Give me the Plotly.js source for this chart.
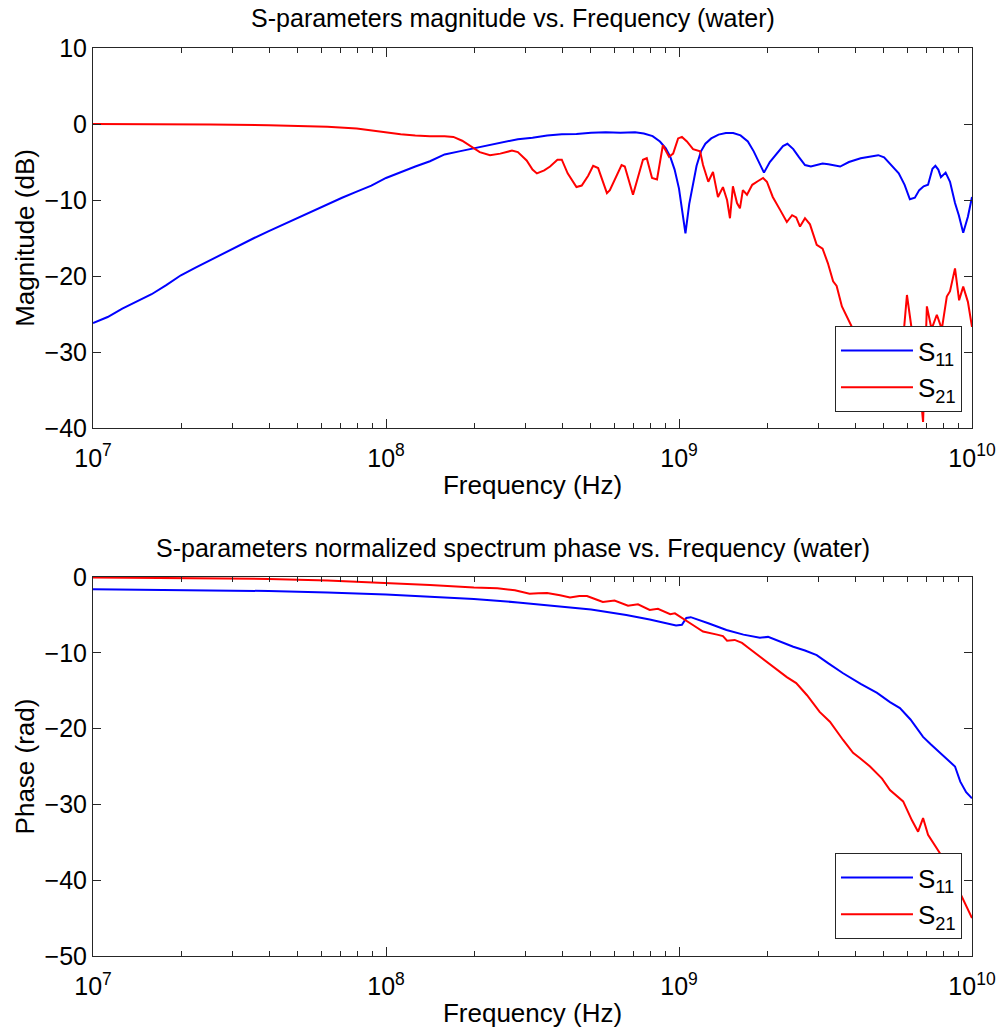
<!DOCTYPE html>
<html>
<head>
<meta charset="utf-8">
<script src="https://cdn.plot.ly/plotly-3.0.1.min.js"></script>
<style>html,body{margin:0;padding:0;background:#fff;}#chart{width:1003px;height:1032px;}</style>
</head>
<body>
<div id="chart"></div>
<script>
// ---------- DATA (frequency given as log10 of Hz) ----------
const magS11LogF = [7.00,7.05,7.10,7.15,7.20,7.25,7.30,7.35,7.40,7.45,7.50,7.55,7.60,7.65,7.70,7.75,7.80,7.85,7.90,7.95,8.00,8.05,8.10,8.15,8.20,8.25,8.30,8.35,8.40,8.45,8.50,8.55,8.60,8.65,8.70,8.75,8.80,8.85,8.88,8.91,8.935,8.955,8.97,8.985,9.00,9.012,9.022,9.035,9.048,9.06,9.075,9.09,9.11,9.135,9.16,9.185,9.21,9.235,9.255,9.275,9.29,9.31,9.335,9.355,9.37,9.39,9.41,9.43,9.45,9.47,9.49,9.51,9.53,9.55,9.58,9.62,9.65,9.68,9.70,9.72,9.75,9.77,9.788,9.805,9.82,9.835,9.85,9.865,9.875,9.885,9.894,9.91,9.925,9.942,9.955,9.97,9.986,10.0];
const magS11dB = [-26.2,-25.4,-24.3,-23.3,-22.4,-21.2,-19.9,-18.9,-17.9,-17.0,-16.0,-15.0,-14.1,-13.2,-12.4,-11.4,-10.5,-9.7,-8.9,-8.1,-7.1,-6.3,-5.6,-4.9,-4.0,-3.6,-3.2,-2.8,-2.4,-2.0,-1.8,-1.5,-1.35,-1.3,-1.15,-1.1,-1.15,-1.1,-1.25,-1.6,-2.3,-3.2,-4.3,-6.0,-8.5,-11.5,-14.4,-10.5,-7.8,-5.5,-3.6,-2.6,-1.9,-1.4,-1.2,-1.2,-1.5,-2.3,-3.6,-5.2,-6.4,-5.0,-3.8,-2.9,-2.6,-3.3,-4.4,-5.4,-5.6,-5.4,-5.2,-5.3,-5.5,-5.6,-5.0,-4.5,-4.3,-4.1,-4.4,-5.3,-6.5,-8.0,-9.9,-9.7,-8.7,-8.2,-8.0,-5.9,-5.5,-6.0,-7.0,-6.4,-7.6,-10.4,-12.0,-14.3,-12.2,-9.6];

const magS21LogF = [7.00,7.20,7.40,7.60,7.70,7.80,7.90,7.95,8.00,8.05,8.10,8.15,8.20,8.23,8.26,8.29,8.32,8.355,8.39,8.43,8.45,8.48,8.50,8.515,8.54,8.56,8.585,8.60,8.62,8.65,8.668,8.69,8.707,8.724,8.74,8.754,8.764,8.785,8.804,8.815,8.83,8.843,8.86,8.877,8.89,8.908,8.925,8.945,8.966,8.98,8.997,9.01,9.027,9.048,9.072,9.082,9.10,9.116,9.133,9.15,9.164,9.174,9.184,9.198,9.208,9.218,9.232,9.25,9.27,9.287,9.30,9.32,9.345,9.368,9.386,9.40,9.413,9.43,9.447,9.47,9.49,9.508,9.526,9.538,9.556,9.584,9.60,9.62,9.64,9.66,9.68,9.70,9.72,9.74,9.76,9.778,9.795,9.805,9.82,9.833,9.846,9.862,9.88,9.897,9.914,9.925,9.942,9.956,9.97,9.986,10.0];
const magS21dB = [0,0,-0.05,-0.15,-0.25,-0.35,-0.6,-0.85,-1.1,-1.35,-1.5,-1.6,-1.6,-1.7,-2.2,-3.0,-3.7,-4.1,-3.9,-3.5,-3.7,-4.8,-6.0,-6.5,-6.1,-5.6,-4.7,-4.7,-6.5,-8.3,-8.1,-6.8,-5.5,-5.8,-7.6,-9.1,-8.7,-7.0,-5.4,-5.6,-7.6,-9.3,-7.0,-4.7,-4.5,-7.1,-7.3,-2.8,-4.3,-3.9,-1.9,-1.7,-2.3,-3.3,-3.6,-5.4,-7.6,-6.3,-9.6,-8.3,-10.0,-12.4,-8.2,-10.4,-11.1,-8.7,-9.3,-8.0,-7.5,-7.1,-7.6,-9.6,-11.3,-12.9,-12.0,-12.3,-13.5,-12.4,-13.2,-15.9,-16.4,-18.3,-20.7,-21.3,-24.0,-26.2,-27.5,-28.6,-30.1,-29.4,-31.5,-32.8,-31.2,-33.6,-30.5,-22.5,-27.5,-30.0,-33.5,-39.2,-24.0,-27.0,-25.1,-27.0,-22.7,-22.0,-19.0,-23.2,-21.4,-23.4,-26.7];

const phS11LogF = [7.0,7.3,7.6,7.8,8.0,8.15,8.3,8.45,8.6,8.7,8.82,8.9,8.99,9.01,9.025,9.04,9.10,9.162,9.22,9.276,9.304,9.35,9.39,9.43,9.47,9.51,9.56,9.62,9.676,9.72,9.754,9.79,9.833,9.86,9.89,9.92,9.942,9.96,9.98,10.0];
const phS11Rad = [-1.6,-1.7,-1.85,-2.05,-2.3,-2.6,-2.9,-3.35,-3.9,-4.3,-5.0,-5.6,-6.4,-6.3,-5.4,-5.3,-6.1,-7.0,-7.6,-8.0,-7.9,-8.6,-9.2,-9.7,-10.3,-11.4,-12.7,-14.1,-15.3,-16.5,-17.3,-18.8,-21.1,-22.1,-23.2,-24.2,-25.0,-27.0,-28.4,-29.2];

const phS21LogF = [7.0,7.3,7.6,7.8,8.0,8.15,8.3,8.38,8.44,8.49,8.52,8.55,8.594,8.628,8.66,8.686,8.72,8.74,8.78,8.81,8.826,8.86,8.9,8.928,8.97,8.986,9.027,9.05,9.082,9.11,9.13,9.15,9.164,9.19,9.215,9.242,9.276,9.31,9.34,9.368,9.40,9.437,9.48,9.515,9.56,9.594,9.618,9.652,9.693,9.72,9.765,9.795,9.816,9.833,9.85,9.89,9.92,9.95,9.975,10.0];
const phS21Rad = [-0.05,-0.12,-0.25,-0.45,-0.75,-1.05,-1.4,-1.5,-1.75,-2.2,-2.15,-2.1,-2.4,-2.7,-2.5,-2.5,-3.0,-3.3,-3.1,-3.5,-3.8,-3.6,-4.35,-4.2,-4.9,-4.8,-5.9,-6.4,-7.2,-7.4,-7.6,-7.8,-8.4,-8.3,-8.7,-9.5,-10.5,-11.6,-12.4,-13.2,-14.0,-15.6,-17.8,-19.1,-21.5,-23.2,-23.9,-25.0,-26.6,-28.1,-29.6,-32.1,-33.6,-31.8,-34.0,-36.4,-38.5,-41.0,-43.0,-45.0];

const seriesNames = ['S<sub>11</sub>', 'S<sub>21</sub>'];
const majorTickExp = [7, 8, 9, 10];
const titles = ['S-parameters magnitude vs. Frequency (water)', 'S-parameters normalized spectrum phase vs. Frequency (water)'];
const yTitles = ['Magnitude (dB)', 'Phase (rad)'];
const xTitle = 'Frequency (Hz)';

// ---------- BUILD ----------
const toHz = a => a.map(e => Math.pow(10, e));
const FONT = 'Liberation Sans, Arial, Helvetica, sans-serif';
const BLUE = '#0000ff', RED = '#ff0000', AX = '#262626';

const traces = [
  {x: toHz(magS11LogF), y: magS11dB, name: seriesNames[0], mode: 'lines', line: {color: BLUE, width: 2}, xaxis: 'x', yaxis: 'y', legend: 'legend'},
  {x: toHz(magS21LogF), y: magS21dB, name: seriesNames[1], mode: 'lines', line: {color: RED, width: 2}, xaxis: 'x', yaxis: 'y', legend: 'legend'},
  {x: toHz(phS11LogF), y: phS11Rad, name: seriesNames[0], mode: 'lines', line: {color: BLUE, width: 2}, xaxis: 'x2', yaxis: 'y2', legend: 'legend2'},
  {x: toHz(phS21LogF), y: phS21Rad, name: seriesNames[1], mode: 'lines', line: {color: RED, width: 2}, xaxis: 'x2', yaxis: 'y2', legend: 'legend2'}
];

function xAxis(anchor) {
  return {
    type: 'log', range: [7, 10], anchor: anchor,
    tickmode: 'array', tickvals: majorTickExp.map(e => Math.pow(10, e)),
    ticktext: majorTickExp.map(e => '10<sup>' + e + '</sup>'),
    ticks: 'inside', ticklen: 9, tickwidth: 1, tickcolor: AX,
    minor: {dtick: 'D1', ticks: 'inside', ticklen: 5, tickwidth: 1, tickcolor: AX, showgrid: false},
    showline: true, linecolor: AX, linewidth: 1, mirror: 'ticks', showgrid: false, zeroline: false,
    tickfont: {family: FONT, size: 25, color: '#000'}, ticklabelstandoff: 8,
    title: {text: xTitle, font: {family: FONT, size: 26, color: '#000'}, standoff: 4},
    automargin: false
  };
}
function yAxis(anchor, range, dom, title) {
  return {
    range: range, domain: dom, anchor: anchor, dtick: 10, tick0: 0,
    ticks: 'inside', ticklen: 8, tickwidth: 1, tickcolor: AX,
    showline: true, linecolor: AX, linewidth: 1, mirror: 'ticks', showgrid: false, zeroline: false,
    tickfont: {family: FONT, size: 25, color: '#000'},
    title: {text: title, font: {family: FONT, size: 26, color: '#000'}, standoff: 2},
    automargin: false
  };
}

const layout = {
  width: 1003, height: 1032,
  margin: {l: 93, r: 31, t: 48, b: 76},
  paper_bgcolor: '#fff', plot_bgcolor: '#fff',
  font: {family: FONT, color: '#000'},
  title: {text: titles[0], font: {family: FONT, size: 25, color: '#000'}, x: 513 / 1003, xanchor: 'center', y: 1 - 18 / 1032, yanchor: 'middle', yref: 'container'},
  xaxis: xAxis('y'),
  yaxis: yAxis('x', [-40, 10], [0.5815, 1], yTitles[0]),
  xaxis2: xAxis('y2'),
  yaxis2: yAxis('x2', [-50, 0], [0, 0.4174], yTitles[1]),
  showlegend: true,
  legend: {x: 0.9886, xanchor: 'right', y: (956 - 326) / 908, yanchor: 'top', bgcolor: '#fff', bordercolor: AX, borderwidth: 1, font: {family: FONT, size: 26, color: '#000'}, itemwidth: 72},
  legend2: {x: 0.9886, xanchor: 'right', y: (956 - 853) / 908, yanchor: 'top', bgcolor: '#fff', bordercolor: AX, borderwidth: 1, font: {family: FONT, size: 26, color: '#000'}, itemwidth: 72},
  annotations: [
    {text: titles[1], xref: 'paper', yref: 'paper', x: (513 - 93) / 879, y: (956 - 548) / 908, xanchor: 'center', yanchor: 'middle', showarrow: false, font: {family: FONT, size: 25, color: '#000'}}
  ]
};

Plotly.newPlot('chart', traces, layout, {staticPlot: true, displayModeBar: false});
</script>
</body>
</html>
